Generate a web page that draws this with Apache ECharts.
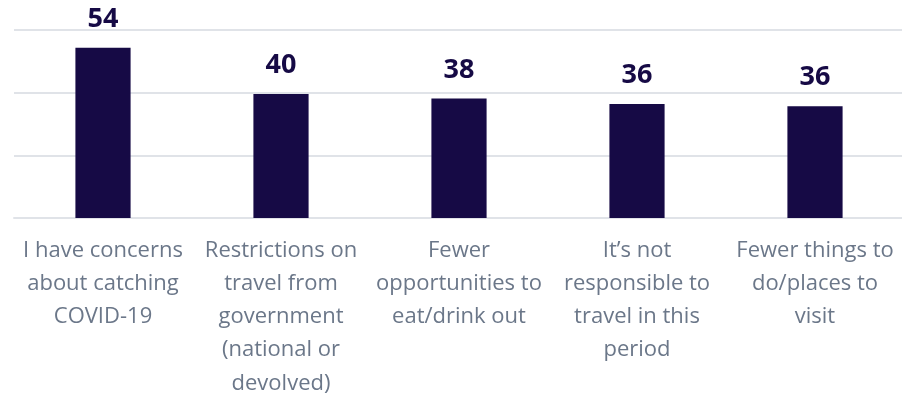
<!DOCTYPE html>
<html><head><meta charset="utf-8">
<script src="https://cdn.jsdelivr.net/npm/echarts@6/dist/echarts.min.js"></script>
<style>html,body{margin:0;padding:0;background:#fff}#c{width:902px;height:394px}</style>
</head><body><div id="c"></div>
<script>
const categories = [
  "I have concerns\nabout catching\nCOVID-19",
  "Restrictions on\ntravel from\ngovernment\n(national or\ndevolved)",
  "Fewer\nopportunities to\neat/drink out",
  "It\u2019s not\nresponsible to\ntravel in this\nperiod",
  "Fewer things to\ndo/places to\nvisit"
];
const values = [54.3, 39.6, 38.1, 36.4, 35.7];
const yTicks = [0, 20, 40, 60];

const chart = echarts.init(document.getElementById('c'), null, {renderer: 'canvas'});
chart.setOption({
  animation: false,
  grid: {left: 14, right: -2, top: 30, bottom: 176, containLabel: false, outerBoundsMode: 'none'},
  xAxis: {
    type: 'category', data: categories,
    axisLine: {show: true, lineStyle: {color: '#e0e3e8', width: 2}},
    axisTick: {show: false},
    axisLabel: {
      interval: 0, margin: 16, color: '#6b7789',
      fontFamily: 'Open Sans, sans-serif', fontSize: 22, lineHeight: 33.2
    }
  },
  yAxis: {
    type: 'value', min: yTicks[0], max: yTicks[yTicks.length - 1], interval: 20,
    axisLabel: {show: false}, axisLine: {show: false}, axisTick: {show: false},
    splitLine: {lineStyle: {color: '#e0e3e8', width: 2}}
  },
  series: [{
    type: 'bar', data: values, barWidth: '31%',
    itemStyle: {color: '#160a45'},
    label: {
      show: true, position: 'top', distance: 15,
      formatter: p => Math.round(p.value),
      color: '#160a45', fontWeight: 'bold', fontSize: 27,
      fontFamily: 'Open Sans, sans-serif'
    }
  }]
});
</script></body></html>
